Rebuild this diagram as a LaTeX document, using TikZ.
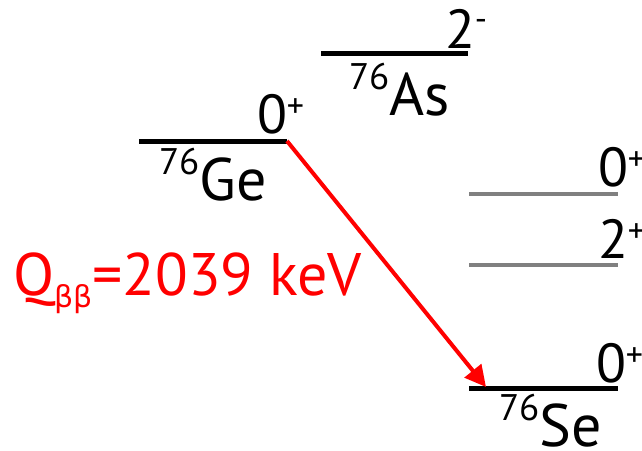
\documentclass[tikz,border=0pt]{standalone}
\usepackage{fontspec}
\setmainfont{PT Sans}
\newfontfamily\greekf{DejaVu Sans}
\usetikzlibrary{arrows.meta}
\definecolor{lvlgray}{RGB}{128,128,128}
\newcommand\supnum[1]{{\fontsize{37}{37}\selectfont\raisebox{26pt}{#1}}}
\newcommand\supsign[2]{{\fontsize{34}{34}\selectfont\raisebox{#1}{#2}}}
\begin{document}
\begin{tikzpicture}[x=1pt,y=-1pt,
  level/.style={line width=5pt},
  glevel/.style={line width=4.5pt,lvlgray},
  lab/.style={anchor=base west,inner sep=0pt,outer sep=0pt,font=\fontsize{60}{60}\selectfont},
  spin/.style={anchor=base west,inner sep=0pt,outer sep=0pt,font=\fontsize{55}{55}\selectfont},
  decay/.style={red,line width=4pt,-{Triangle[length=21pt,width=21pt]}}]
\useasboundingbox (0,0) rectangle (642,450);
% level end points
\coordinate (asL) at (321,53);  \coordinate (asR) at (468,53);
\coordinate (geL) at (139,141); \coordinate (geR) at (287,141);
\coordinate (g1L) at (469,194); \coordinate (g1R) at (618,194);
\coordinate (g2L) at (469,265); \coordinate (g2R) at (618,265);
\coordinate (seL) at (469,388); \coordinate (seR) at (618,388);
\coordinate (arrEnd) at (486,387);
% levels
\draw[level] (asL) -- (asR);
\draw[level] (geL) -- (geR);
\draw[glevel] (g1L) -- (g1R);
\draw[glevel] (g2L) -- (g2R);
\draw[level] (seL) -- (seR);
% decay arrow
\draw[decay] (geR) -- (arrEnd);
% spin labels
\node[spin] (asSpin) at (445,48) {2\supsign{18pt}{-}};
\node[spin] (geSpin) at (257,133) {0\supsign{16pt}{+}};
\node[spin] (g1Spin) at (598,186) {0\supsign{16pt}{+}};
\node[spin] (g2Spin) at (598,258) {2\supsign{16pt}{+}};
\node[spin] (seSpin) at (596,382) {0\supsign{16pt}{+}};
% nucleus labels
\node[lab] (asLab) at (349,115) {\supnum{76}As};
\node[lab] (geLab) at (159,200) {\supnum{76}Ge};
\node[lab] (seLab) at (499,446) {\supnum{76}Se};
% Q value
\node[lab,red] (qLab) at (13,295) {Q{\greekf\fontsize{30}{30}\selectfont\raisebox{-12pt}{ββ}}=2039 keV};
\end{tikzpicture}
\end{document}
